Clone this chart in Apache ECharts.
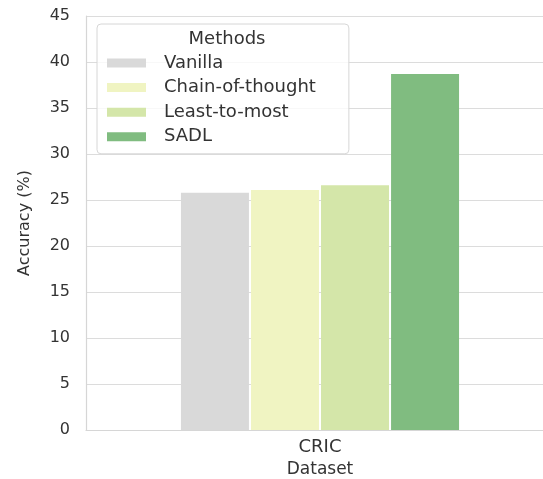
<!DOCTYPE html>
<html><head><meta charset="utf-8">
<script src="https://cdn.jsdelivr.net/npm/echarts@6/dist/echarts.min.js"></script>
<style>html,body{margin:0;padding:0;background:#fff;overflow:hidden;width:543px;height:479px}#c{width:554px;height:479px}</style>
</head><body><div id="c"></div>
<script>
const categories = ['CRIC'];
const methods = ['Vanilla', 'Chain-of-thought', 'Least-to-most', 'SADL'];
const values = [[25.8], [26.1], [26.6], [38.7]];
const colors = ['#d9d9d9', '#f0f4c2', '#d4e6a9', '#80bc80'];
const yTicks = { min: 0, max: 45, interval: 5 };

const chart = echarts.init(document.getElementById('c'));
const font = 'DejaVu Sans';
chart.setOption({
  animation: false,
  textStyle: { fontFamily: font },
  title: {
    text: 'Methods', left: 222, top: 25, textAlign: 'center',
    textStyle: { fontFamily: font, fontSize: 18, fontWeight: 'normal', color: '#333' }
  },
  legend: {
    orient: 'vertical', left: 97, top: 24,
    padding: [30, 33, 8, 10],
    backgroundColor: 'rgba(255,255,255,0.8)',
    borderColor: '#d6d6d6', borderWidth: 1, borderRadius: 4,
    itemWidth: 39, itemHeight: 9, itemGap: 6.6,
    icon: 'rect',
    textStyle: { fontFamily: font, fontSize: 18, color: '#333', padding: [0, 0, 0, 13] },
    data: methods
  },
  grid: { left: 86, right: 0, top: 16, bottom: 49, containLabel: false, outerBoundsMode: 'none' },
  xAxis: {
    type: 'category', data: categories,
    name: 'Dataset', nameLocation: 'middle', nameGap: 30,
    nameTextStyle: { fontFamily: font, fontSize: 17, color: '#333' },
    axisLine: { lineStyle: { color: '#d6d6d6', width: 1.2 } },
    axisTick: { show: false },
    axisLabel: { fontFamily: font, fontSize: 18, color: '#333', margin: 8 }
  },
  yAxis: {
    type: 'value', min: yTicks.min, max: yTicks.max, interval: yTicks.interval,
    name: 'Accuracy (%)', nameLocation: 'middle', nameGap: 53,
    nameTextStyle: { fontFamily: font, fontSize: 16, color: '#333' },
    axisLine: { show: true, lineStyle: { color: '#d6d6d6', width: 1.2 } },
    axisTick: { show: false },
    axisLabel: { fontFamily: font, fontSize: 16, color: '#333', margin: 16 },
    splitLine: { lineStyle: { color: '#dcdcdc', width: 1.2 } }
  },
  series: methods.map((m, i) => ({
    name: m, type: 'bar', data: values[i],
    barWidth: 68, barGap: '3%',
    itemStyle: { color: colors[i] }
  }))
});
</script></body></html>
